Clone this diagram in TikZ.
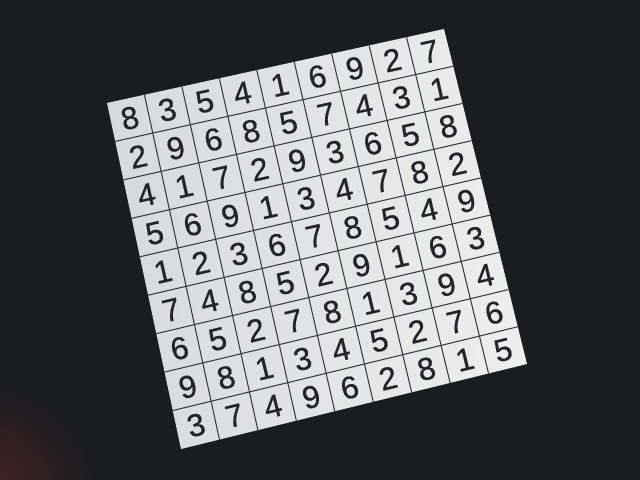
\documentclass[tikz,border=0pt]{standalone}
\usepackage{fontspec}
\setmainfont{Liberation Sans}
\newfontfamily\digitfont[FakeBold=0.6]{Liberation Sans}
\usetikzlibrary{calc}
\definecolor{bgdark}{RGB}{26,28,31}
\definecolor{glow}{RGB}{75,35,40}
\definecolor{paperL}{RGB}{216,217,220}
\definecolor{paperR}{RGB}{238,238,238}
\definecolor{ink}{RGB}{36,36,40}
\tikzset{
  gridline/.style={draw=ink!90, line width=0.6pt},
  digit/.style={text=ink, inner sep=0pt, font=\digitfont\fontsize{18}{18}\selectfont},
}
\begin{document}
\begin{tikzpicture}[x={(0.02cm,0)}, y={(0,-0.02cm)}]
  \fill[bgdark] (0,0) rectangle (640,480);
  \useasboundingbox (0,0) rectangle (640,480);
  \begin{scope}
    \clip (0,0) rectangle (640,480);
    \shade[inner color=glow, outer color=bgdark] (-20,500) circle (120);
  \end{scope}
  \coordinate (TL) at (107,103);
  \coordinate (TR) at (444,29);
  \coordinate (BR) at (527,364);
  \coordinate (BL) at (181,449);
  \shade[left color=paperL, right color=paperR] (TL) -- (TR) -- (BR) -- (BL) -- cycle;
  \foreach \i in {1,...,8} {
    \draw[gridline] ($(TL)!\i/9!(TR)$) -- ($(BL)!\i/9!(BR)$);
    \draw[gridline] ($(TL)!\i/9!(BL)$) -- ($(TR)!\i/9!(BR)$);
  }
  \foreach \row [count=\r from 0] in {
    {8,3,5,4,1,6,9,2,7},
    {2,9,6,8,5,7,4,3,1},
    {4,1,7,2,9,3,6,5,8},
    {5,6,9,1,3,4,7,8,2},
    {1,2,3,6,7,8,5,4,9},
    {7,4,8,5,2,9,1,6,3},
    {6,5,2,7,8,1,3,9,4},
    {9,8,1,3,4,5,2,7,6},
    {3,7,4,9,6,2,8,1,5}} {
    \pgfmathsetmacro{\t}{(\r+0.5)/9}
    \pgfmathsetmacro{\ang}{12.3+1.5*\t}
    \coordinate (L\r) at ($(TL)!\t!(BL)$);
    \coordinate (R\r) at ($(TR)!\t!(BR)$);
    \foreach \d [count=\c from 0] in \row {
      \pgfmathsetmacro{\s}{(\c+0.5)/9}
      \node[digit, rotate=\ang] (n\r\c) at ($(L\r)!\s!(R\r)$) {\d};
    }
  }
\end{tikzpicture}
\end{document}
